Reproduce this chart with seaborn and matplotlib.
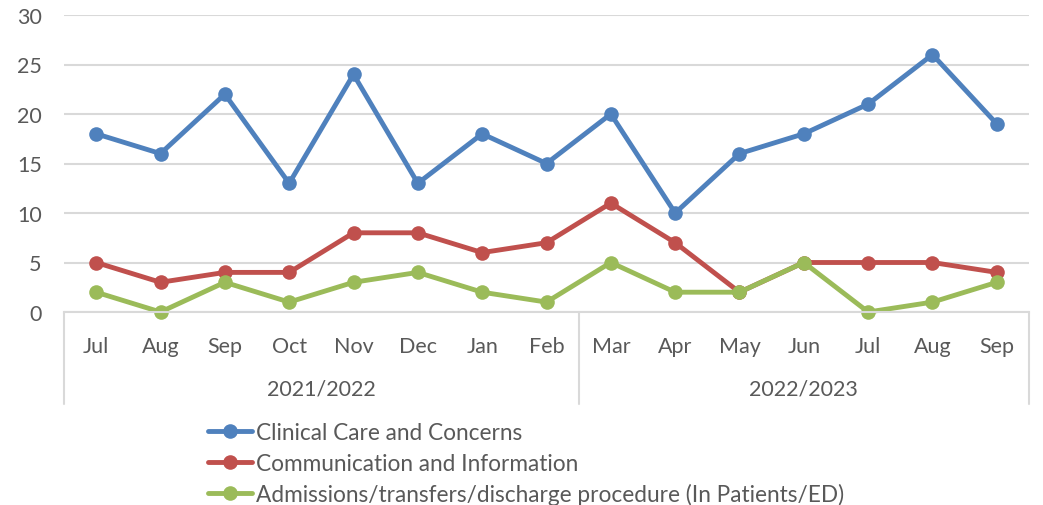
import matplotlib
matplotlib.use("Agg")
import matplotlib.pyplot as plt
import seaborn as sns
import pandas as pd

# Monthly complaint counts by theme
months = ["Jul", "Aug", "Sep", "Oct", "Nov", "Dec", "Jan", "Feb",
          "Mar", "Apr", "May", "Jun", "Jul", "Aug", "Sep"]
years = ["2021/2022", "2022/2023"]
year_sizes = [8, 7]

clinical = [18, 16, 22, 13, 24, 13, 18, 15, 20, 10, 16, 18, 21, 26, 19]
communication = [5, 3, 4, 4, 8, 8, 6, 7, 11, 7, 2, 5, 5, 5, 4]
admissions = [2, 0, 3, 1, 3, 4, 2, 1, 5, 2, 2, 5, 0, 1, 3]

series_names = ["Clinical Care and Concerns",
                "Communication and Information",
                "Admissions/transfers/discharge procedure (In Patients/ED)"]
series_values = [clinical, communication, admissions]
colors = ["#4F81BD", "#C0504D", "#9BBB59"]

rows = []
for name, vals in zip(series_names, series_values):
    for i, v in enumerate(vals):
        rows.append({"idx": i, "value": v, "series": name})
df = pd.DataFrame(rows)

sns.set_theme(style="white")
plt.rcParams["font.family"] = ["Lato", "DejaVu Sans"]

fig = plt.figure(figsize=(10.43, 5.06), dpi=100)
ax = fig.add_axes([64 / 1043, 1 - 313 / 506, (1029 - 64) / 1043, (313 - 16) / 506])

sns.lineplot(data=df, x="idx", y="value", hue="series", hue_order=series_names,
             palette=colors, marker="o", markersize=10.5, markeredgewidth=0,
             linewidth=3.5, ax=ax, legend=True, clip_on=False)

ax.set_xlim(-0.5, len(months) - 0.5)
ax.set_ylim(0, 30)
ax.set_yticks(range(0, 31, 5))
ax.yaxis.grid(True, color="#D9D9D9", linewidth=1.5)
ax.set_axisbelow(True)
for s in ["top", "right", "left"]:
    ax.spines[s].set_visible(False)
ax.spines["bottom"].set_color("#D9D9D9")
ax.spines["bottom"].set_linewidth(1.5)

text_color = "#595959"
fs = 15.5
ax.tick_params(axis="y", length=0, pad=16, labelsize=fs, labelcolor=text_color)
ax.set_xticks(range(len(months)))
ax.set_xticklabels(months)
ax.tick_params(axis="x", length=0, pad=17, labelsize=fs, labelcolor=text_color)
ax.set_xlabel("")
ax.set_ylabel("")

# Year group labels and separators below the month axis
trans = ax.get_xaxis_transform()
drop = -(405 - 313) / (313 - 16)
start = 0
bounds = [-0.5]
for name, n in zip(years, year_sizes):
    center = start + (n - 1) / 2
    ax.text(center, -(390 - 313) / (313 - 16), name, transform=trans,
            ha="center", va="center", fontsize=fs, color=text_color)
    start += n
    bounds.append(start - 0.5)
for b in bounds:
    ax.plot([b, b], [0, drop], transform=trans, color="#D9D9D9",
            linewidth=1.5, clip_on=False)

handles, labels = ax.get_legend_handles_labels()
leg = ax.legend(handles, labels, loc="upper left",
                bbox_to_anchor=(208 / 1043, 1 - 423 / 506),
                bbox_transform=fig.transFigure, frameon=False,
                fontsize=16.3, handlelength=1.95, handletextpad=0.15,
                labelspacing=0.42, borderaxespad=0, borderpad=0)
for t in leg.get_texts():
    t.set_color(text_color)

fig.savefig("out.png", dpi=100)
